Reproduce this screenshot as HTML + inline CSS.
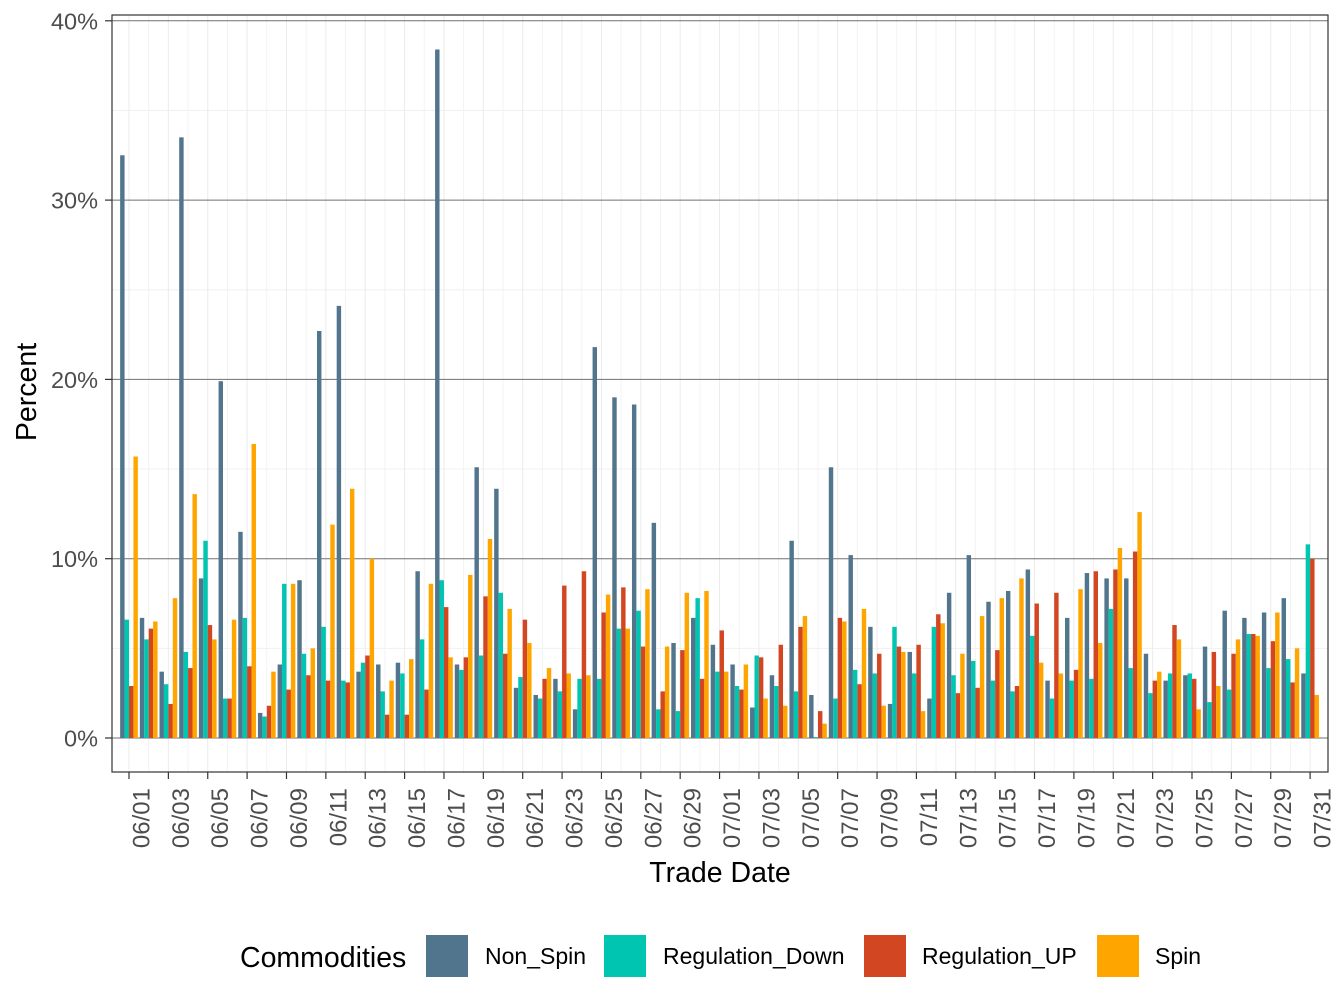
<!DOCTYPE html>
<html><head><meta charset="utf-8"><style>
body{margin:0;background:#fff}
svg{display:block;font-family:"Liberation Sans",sans-serif}
</style></head><body>
<svg id="s" width="1344" height="1008" xmlns="http://www.w3.org/2000/svg"></svg>
<script>
const D=[[32.5,6.6,2.9,15.7],[6.7,5.5,6.1,6.5],[3.7,3.0,1.9,7.8],[33.5,4.8,3.9,13.6],[8.9,11.0,6.3,5.5],[19.9,2.2,2.2,6.6],[11.5,6.7,4.0,16.4],[1.4,1.2,1.8,3.7],[4.1,8.6,2.7,8.6],[8.8,4.7,3.5,5.0],
[22.7,6.2,3.2,11.9],[24.1,3.2,3.1,13.9],[3.7,4.2,4.6,10.0],[4.1,2.6,1.3,3.2],[4.2,3.6,1.3,4.4],[9.3,5.5,2.7,8.6],[38.4,8.8,7.3,4.5],[4.1,3.8,4.5,9.1],[15.1,4.6,7.9,11.1],[13.9,8.1,4.7,7.2],
[2.8,3.4,6.6,5.3],[2.4,2.2,3.3,3.9],[3.3,2.6,8.5,3.6],[1.6,3.3,9.3,3.5],[21.8,3.3,7.0,8.0],[19.0,6.1,8.4,6.1],[18.6,7.1,5.1,8.3],[12.0,1.6,2.6,5.1],[5.3,1.5,4.9,8.1],[6.7,7.8,3.3,8.2],
[5.2,3.7,6.0,3.7],[4.1,2.9,2.7,4.1],[1.7,4.6,4.5,2.2],[3.5,2.9,5.2,1.8],[11.0,2.6,6.2,6.8],[2.4,0.05,1.5,0.8],[15.1,2.2,6.7,6.5],[10.2,3.8,3.0,7.2],[6.2,3.6,4.7,1.8],[1.9,6.2,5.1,4.8],
[4.8,3.6,5.2,1.5],[2.2,6.2,6.9,6.4],[8.1,3.5,2.5,4.7],[10.2,4.3,2.8,6.8],[7.6,3.2,4.9,7.8],[8.2,2.6,2.9,8.9],[9.4,5.7,7.5,4.2],[3.2,2.2,8.1,3.6],[6.7,3.2,3.8,8.3],[9.2,3.3,9.3,5.3],
[8.9,7.2,9.4,10.6],[8.9,3.9,10.4,12.6],[4.7,2.5,3.2,3.7],[3.2,3.6,6.3,5.5],[3.5,3.6,3.3,1.6],[5.1,2.0,4.8,2.9],[7.1,2.7,4.7,5.5],[6.7,5.8,5.8,5.7],[7.0,3.9,5.4,7.0],[7.8,4.4,3.1,5.0],[3.6,10.8,10.0,2.4]];
const C=["#51758c","#00c5b0","#d24621","#ffa500"];
const L=112,R=1328,T=15,B=772,y0=738,k=17.93,x0=129,dx=19.685;
let s='<rect x="'+L+'" y="'+T+'" width="'+(R-L)+'" height="'+(B-T)+'" fill="#fff"/>';
for(let v=5;v<40;v+=10){const y=y0-v*k;s+=`<line x1="${L}" x2="${R}" y1="${y}" y2="${y}" stroke="#f0f0f0" stroke-width="1"/>`;}
for(let i=0;i<61;i++){const x=x0+i*dx;s+=`<line x1="${x}" x2="${x}" y1="${T}" y2="${B}" stroke="${i%2?'#f3f3f3':'#ebebeb'}" stroke-width="1"/>`;}
for(let v=0;v<=40;v+=10){const y=y0-v*k;s+=`<line x1="${L}" x2="${R}" y1="${y}" y2="${y}" stroke="#707070" stroke-width="1"/>`;
s+=`<text x="98" y="${y+8.5}" text-anchor="end" font-size="23.5" fill="#4d4d4d">${v}%</text><line x1="105" x2="${L}" y1="${y}" y2="${y}" stroke="#333" stroke-width="1.2"/>`;}
const bw=dx*0.9/4;
D.forEach((d,i)=>{const c=x0+i*dx-dx*0.45;d.forEach((v,j)=>{const h=v*k;s+=`<rect x="${(c+j*bw).toFixed(2)}" y="${(y0-h).toFixed(2)}" width="${bw.toFixed(2)}" height="${h.toFixed(2)}" fill="${C[j]}"/>`;});});
s+=`<rect x="${L}" y="${T}" width="${R-L}" height="${B-T}" fill="none" stroke="#333" stroke-width="1.2"/>`;
for(let i=0;i<61;i+=2){const x=x0+i*dx;const m=i<30?'06':'07';const dd=i<30?i+1:i-29;const lab=m+'/'+String(dd).padStart(2,'0');
s+=`<line x1="${x}" x2="${x}" y1="${B}" y2="${B+7}" stroke="#333" stroke-width="1.2"/>`;
s+=`<text transform="translate(${x+20.5},788) rotate(-90)" text-anchor="end" font-size="24" fill="#4d4d4d">${lab}</text>`;}
s+=`<text x="720" y="882" text-anchor="middle" font-size="28.5">Trade Date</text>`;
s+=`<text transform="translate(36,392) rotate(-90)" text-anchor="middle" font-size="28.5">Percent</text>`;
s+=`<text x="240" y="967" font-size="28.5">Commodities</text>`;
const lk=[[426,485,"Non_Spin"],[604,663,"Regulation_Down"],[864,922,"Regulation_UP"],[1097,1155,"Spin"]];
lk.forEach((l,j)=>{s+=`<rect x="${l[0]}" y="935" width="42" height="42" fill="${C[j]}"/><text x="${l[1]}" y="964" font-size="23">${l[2]}</text>`;});
document.getElementById('s').innerHTML=s;
</script>
</body></html>
